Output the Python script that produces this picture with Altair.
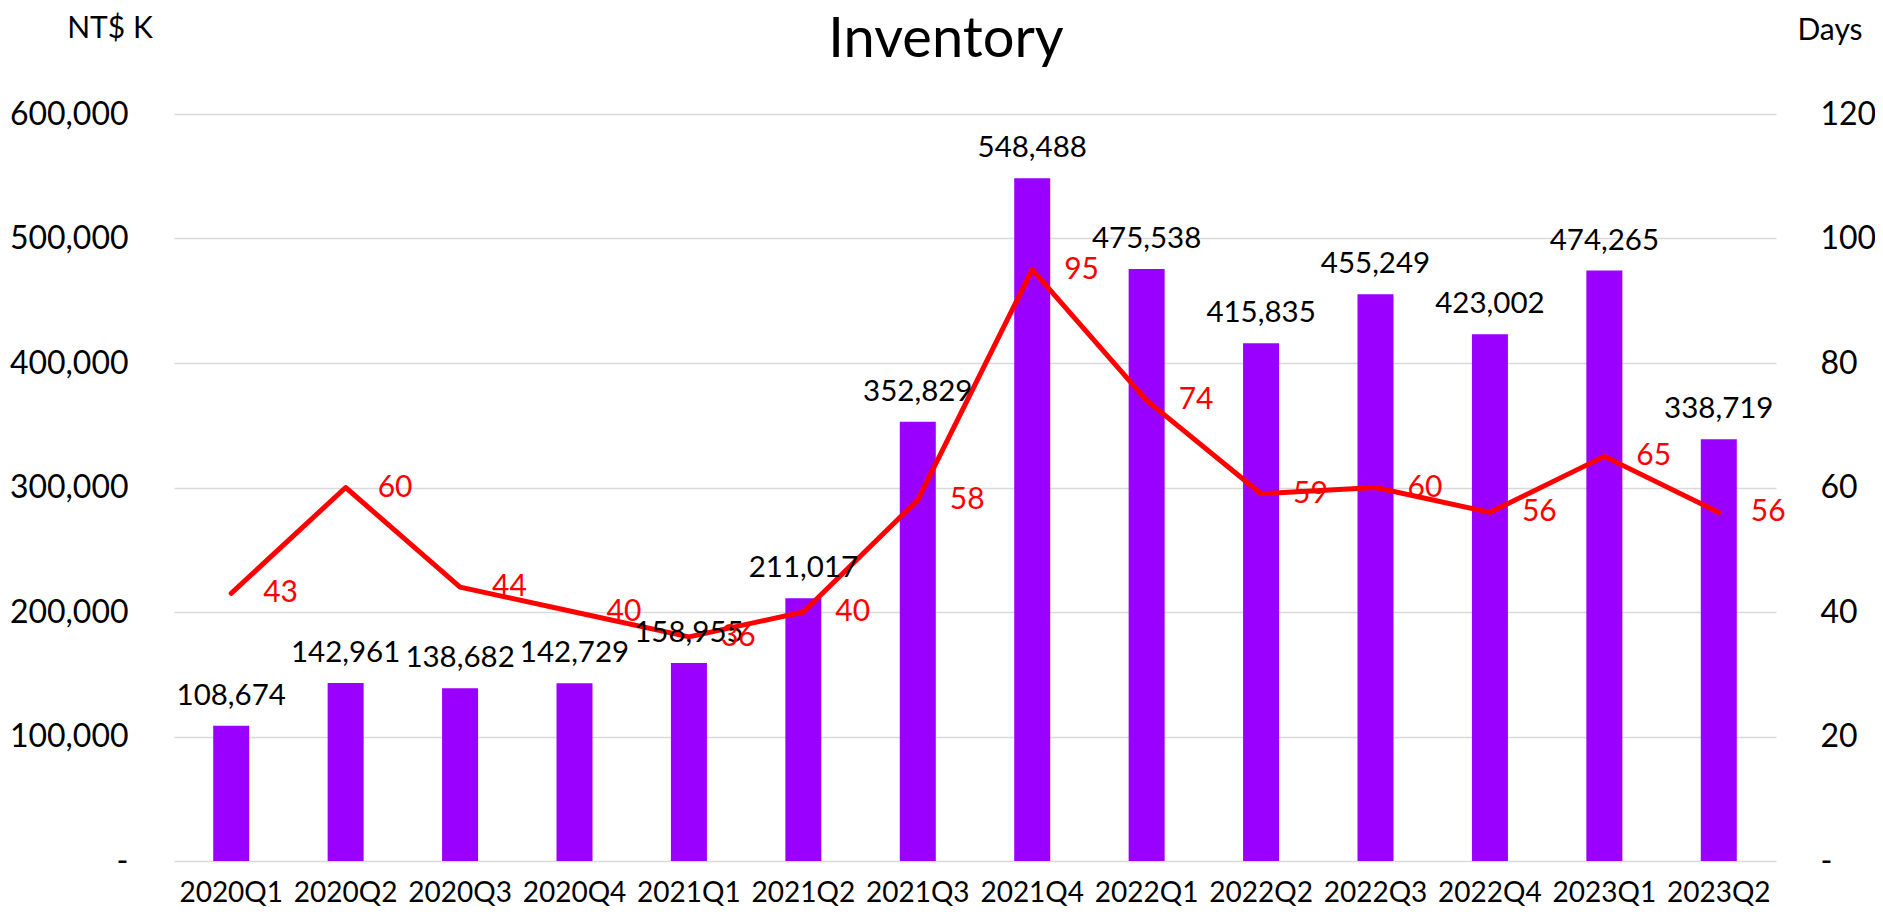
import altair as alt
import pandas as pd

quarters = ["2020Q1", "2020Q2", "2020Q3", "2020Q4", "2021Q1", "2021Q2", "2021Q3",
            "2021Q4", "2022Q1", "2022Q2", "2022Q3", "2022Q4", "2023Q1", "2023Q2"]
inventory = [108674, 142961, 138682, 142729, 158955, 211017, 352829,
             548488, 475538, 415835, 455249, 423002, 474265, 338719]
days = [43, 60, 44, 40, 36, 40, 58, 95, 74, 59, 60, 56, 65, 56]

left_ticks = [0, 100000, 200000, 300000, 400000, 500000, 600000]
right_ticks = [0, 20, 40, 60, 80, 100, 120]

df = pd.DataFrame({"q": quarters, "inv": inventory, "days": days})
df["inv_label"] = [f"{v:,}" for v in inventory]
df["days_label"] = [str(v) for v in days]

FONT = "Lato"
W, H = 1602, 747
SP = "\u2002"

x_enc = alt.X("q:N", sort=quarters,
              scale=alt.Scale(paddingInner=0, paddingOuter=0),
              axis=alt.Axis(title=None, labelAngle=0, ticks=False, domain=False,
                            grid=False, labelFont=FONT, labelFontSize=28,
                            labelColor="#000000", labelPadding=40,
                            labelBaseline="alphabetic"))

y_left_scale = alt.Scale(domain=[0, 600000], nice=False)
y_right_scale = alt.Scale(domain=[0, 120], nice=False)

base = alt.Chart(df)

bars = base.mark_bar(color="#9900FF", size=36).encode(
    x=x_enc,
    y=alt.Y("inv:Q", scale=y_left_scale,
            axis=alt.Axis(title=None, values=left_ticks, ticks=False, domain=False,
                          grid=True, gridColor="#D9D9D9", gridWidth=1.5,
                          labelFont=FONT, labelFontSize=32, labelColor="#000000",
                          labelPadding=46,
                          labelExpr="datum.value == 0 ? '-" + SP + "' : format(datum.value, ',')")),
)

line = base.mark_line(color="#FF0000", strokeWidth=5, strokeCap="round",
                      strokeJoin="round").encode(
    x=x_enc,
    y=alt.Y("days:Q", scale=y_right_scale,
            axis=alt.Axis(title=None, orient="right", values=right_ticks, ticks=False,
                          domain=False, grid=False, labelFont=FONT, labelFontSize=32,
                          labelColor="#000000", labelPadding=44, labelAlign="left",
                          labelExpr="datum.value == 0 ? '-' : datum.label")),
)

bar_labels = base.mark_text(font=FONT, fontSize=29.5, color="#000000",
                            baseline="alphabetic", dy=-21).encode(
    x=x_enc,
    y=alt.Y("inv:Q", scale=y_left_scale, axis=None),
    text="inv_label:N",
)

line_labels = base.mark_text(font=FONT, fontSize=30, color="#FF0000",
                             align="left", baseline="middle", dx=32).encode(
    x=x_enc,
    y=alt.Y("days:Q", scale=y_right_scale, axis=None),
    text="days_label:N",
)

txt = pd.DataFrame({"t": ["x"]})
title = alt.Chart(txt).mark_text(text="Inventory", font=FONT, fontSize=56,
                                 color="#000000", baseline="middle").encode(
    x=alt.value(772), y=alt.value(-74))
left_title = alt.Chart(txt).mark_text(text="NT$ K", font=FONT, fontSize=30,
                                      color="#000000", baseline="middle").encode(
    x=alt.value(-64), y=alt.value(-85))
right_title = alt.Chart(txt).mark_text(text="Days", font=FONT, fontSize=30,
                                       color="#000000", baseline="middle").encode(
    x=alt.value(1656), y=alt.value(-83))

chart = alt.layer(bars, line, bar_labels, line_labels, title, left_title, right_title).resolve_scale(
    y="independent"
).properties(
    width=W, height=H,
    autosize=alt.AutoSizeParams(type="none"),
    padding={"left": 166, "top": 106, "right": 99, "bottom": 45},
).configure_view(stroke=None)

chart.save("out.html", embed_options={"renderer": "svg", "actions": False})
